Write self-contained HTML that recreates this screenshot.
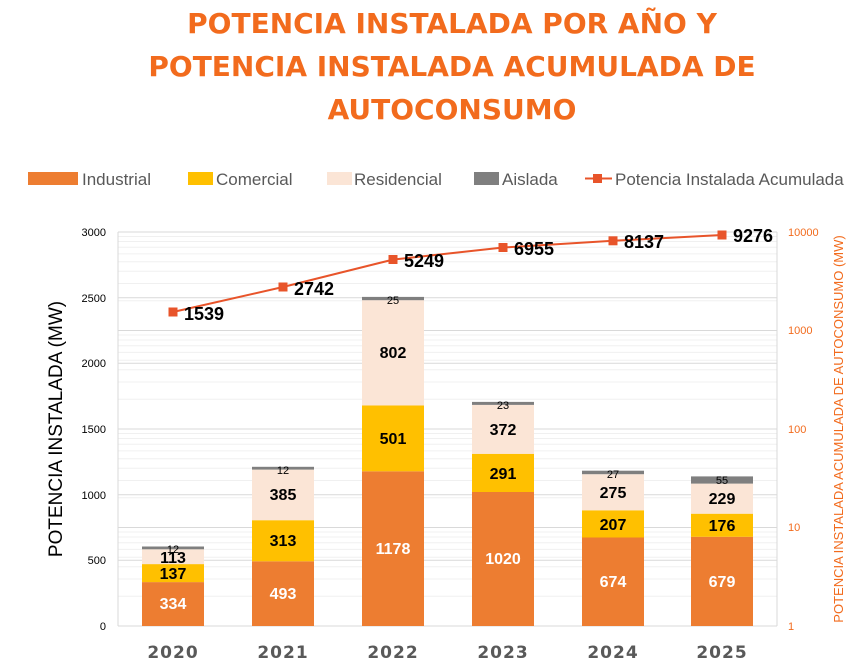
<!DOCTYPE html>
<html><head><meta charset="utf-8"><style>
body{margin:0;background:#fff;}
svg{display:block;font-family:"Liberation Sans",sans-serif;}
</style></head><body>
<svg width="866" height="668" viewBox="0 0 866 668" xmlns="http://www.w3.org/2000/svg">
<g font-family="'DejaVu Sans','Liberation Sans',sans-serif" font-weight="bold" font-size="28" fill="#F26B1D" text-anchor="middle">
<text x="452" y="33">POTENCIA INSTALADA POR AÑO Y</text>
<text x="452" y="76">POTENCIA INSTALADA ACUMULADA DE</text>
<text x="452" y="119">AUTOCONSUMO</text>
</g>
<g font-size="17" fill="#595959">
<rect x="28" y="172" width="50" height="13" fill="#ED7D31"/><text x="82" y="185">Industrial</text>
<rect x="188" y="172" width="25" height="13" fill="#FFC000"/><text x="216" y="185">Comercial</text>
<rect x="327" y="172" width="25" height="13" fill="#FBE5D6"/><text x="354" y="185">Residencial</text>
<rect x="474" y="172" width="25" height="13" fill="#7F7F7F"/><text x="502" y="185">Aislada</text>
<line x1="585" y1="178.5" x2="612" y2="178.5" stroke="#E8542A" stroke-width="2"/><rect x="593" y="174" width="9" height="9" fill="#E8542A"/><text x="615" y="185">Potencia Instalada Acumulada</text>
</g>
<g stroke="#f0f0f0" stroke-width="1">
<line x1="118" y1="596.3" x2="777" y2="596.3"/><line x1="118" y1="579" x2="777" y2="579"/><line x1="118" y1="566.7" x2="777" y2="566.7"/><line x1="118" y1="557.2" x2="777" y2="557.2"/><line x1="118" y1="549.4" x2="777" y2="549.4"/><line x1="118" y1="542.8" x2="777" y2="542.8"/><line x1="118" y1="537" x2="777" y2="537"/><line x1="118" y1="532" x2="777" y2="532"/>
<line x1="118" y1="497.8" x2="777" y2="497.8"/><line x1="118" y1="480.5" x2="777" y2="480.5"/><line x1="118" y1="468.2" x2="777" y2="468.2"/><line x1="118" y1="458.7" x2="777" y2="458.7"/><line x1="118" y1="450.9" x2="777" y2="450.9"/><line x1="118" y1="444.3" x2="777" y2="444.3"/><line x1="118" y1="438.5" x2="777" y2="438.5"/><line x1="118" y1="433.5" x2="777" y2="433.5"/>
<line x1="118" y1="399.3" x2="777" y2="399.3"/><line x1="118" y1="382" x2="777" y2="382"/><line x1="118" y1="369.7" x2="777" y2="369.7"/><line x1="118" y1="360.2" x2="777" y2="360.2"/><line x1="118" y1="352.4" x2="777" y2="352.4"/><line x1="118" y1="345.8" x2="777" y2="345.8"/><line x1="118" y1="340" x2="777" y2="340"/><line x1="118" y1="335" x2="777" y2="335"/>
<line x1="118" y1="300.8" x2="777" y2="300.8"/><line x1="118" y1="283.5" x2="777" y2="283.5"/><line x1="118" y1="271.2" x2="777" y2="271.2"/><line x1="118" y1="261.7" x2="777" y2="261.7"/><line x1="118" y1="253.9" x2="777" y2="253.9"/><line x1="118" y1="247.3" x2="777" y2="247.3"/><line x1="118" y1="241.5" x2="777" y2="241.5"/><line x1="118" y1="236.5" x2="777" y2="236.5"/>
</g>
<g stroke="#d9d9d9" stroke-width="1">
<line x1="118" y1="560.3" x2="777" y2="560.3"/><line x1="118" y1="494.7" x2="777" y2="494.7"/><line x1="118" y1="429" x2="777" y2="429"/><line x1="118" y1="363.3" x2="777" y2="363.3"/><line x1="118" y1="297.7" x2="777" y2="297.7"/><line x1="118" y1="232" x2="777" y2="232"/>
<line x1="118" y1="527.5" x2="777" y2="527.5"/><line x1="118" y1="330.5" x2="777" y2="330.5"/>
<line x1="118" y1="626" x2="777" y2="626"/><line x1="118" y1="232" x2="118" y2="626"/><line x1="777" y1="232" x2="777" y2="626"/>
</g>
<g font-size="11" fill="#000" text-anchor="end">
<text x="106" y="630">0</text><text x="106" y="564">500</text><text x="106" y="499">1000</text><text x="106" y="433">1500</text><text x="106" y="367">2000</text><text x="106" y="302">2500</text><text x="106" y="236">3000</text>
</g>
<g font-size="11" fill="#F26B1D">
<text x="788" y="630">1</text><text x="788" y="531">10</text><text x="788" y="433">100</text><text x="788" y="334">1000</text><text x="788" y="236">10000</text>
</g>
<text transform="translate(62,429) rotate(-90)" text-anchor="middle" font-size="19" fill="#000">POTENCIA  INSTALADA (MW)</text>
<text transform="translate(843,429) rotate(-90)" text-anchor="middle" font-size="13" fill="#F26B1D">POTENCIA INSTALADA ACUMULADA DE AUTOCONSUMO (MW)</text>
<g>
<rect x="142" y="582.1" width="62" height="43.9" fill="#ED7D31"/><rect x="142" y="564.1" width="62" height="18" fill="#FFC000"/><rect x="142" y="549.3" width="62" height="14.8" fill="#FBE5D6"/><rect x="142" y="546.5" width="62" height="2.8" fill="#7F7F7F"/>
<rect x="252" y="561.3" width="62" height="64.7" fill="#ED7D31"/><rect x="252" y="520.2" width="62" height="41.1" fill="#FFC000"/><rect x="252" y="469.6" width="62" height="50.6" fill="#FBE5D6"/><rect x="252" y="466.8" width="62" height="2.8" fill="#7F7F7F"/>
<rect x="362" y="471.3" width="62" height="154.7" fill="#ED7D31"/><rect x="362" y="405.5" width="62" height="65.8" fill="#FFC000"/><rect x="362" y="300.2" width="62" height="105.3" fill="#FBE5D6"/><rect x="362" y="296.9" width="62" height="3.3" fill="#7F7F7F"/>
<rect x="472" y="492" width="62" height="134" fill="#ED7D31"/><rect x="472" y="453.8" width="62" height="38.2" fill="#FFC000"/><rect x="472" y="404.9" width="62" height="48.9" fill="#FBE5D6"/><rect x="472" y="401.9" width="62" height="3" fill="#7F7F7F"/>
<rect x="582" y="537.5" width="62" height="88.5" fill="#ED7D31"/><rect x="582" y="510.3" width="62" height="27.2" fill="#FFC000"/><rect x="582" y="474.2" width="62" height="36.1" fill="#FBE5D6"/><rect x="582" y="470.7" width="62" height="3.5" fill="#7F7F7F"/>
<rect x="691" y="536.8" width="62" height="89.2" fill="#ED7D31"/><rect x="691" y="513.7" width="62" height="23.1" fill="#FFC000"/><rect x="691" y="483.6" width="62" height="30.1" fill="#FBE5D6"/><rect x="691" y="476.4" width="62" height="7.2" fill="#7F7F7F"/>
</g>
<g font-size="16" font-weight="bold" text-anchor="middle">
<g fill="#fff"><text x="173" y="609">334</text><text x="283" y="599">493</text><text x="393" y="554">1178</text><text x="503" y="564">1020</text><text x="613" y="587">674</text><text x="722" y="587">679</text></g>
<g fill="#000"><text x="173" y="579">137</text><text x="283" y="546">313</text><text x="393" y="444">501</text><text x="503" y="479">291</text><text x="613" y="530">207</text><text x="722" y="531">176</text>
<text x="173" y="563">113</text><text x="283" y="500">385</text><text x="393" y="358">802</text><text x="503" y="435">372</text><text x="613" y="498">275</text><text x="722" y="504">229</text></g>
</g>
<g font-size="11" text-anchor="middle" fill="#000">
<text x="173" y="553">12</text><text x="283" y="474">12</text><text x="393" y="304">25</text><text x="503" y="409">23</text><text x="613" y="478">27</text><text x="722" y="484">55</text>
</g>
<polyline points="173,312 283,287 393,259.6 503,247.5 613,240.8 722,235" fill="none" stroke="#E8542A" stroke-width="2"/>
<g fill="#E8542A">
<rect x="168.5" y="307.5" width="9" height="9"/><rect x="278.5" y="282.5" width="9" height="9"/><rect x="388.5" y="255" width="9" height="9"/><rect x="498.5" y="243" width="9" height="9"/><rect x="608.5" y="236.3" width="9" height="9"/><rect x="717.5" y="230.5" width="9" height="9"/>
</g>
<g font-size="18" font-weight="bold" fill="#000">
<text x="184" y="320">1539</text><text x="294" y="295">2742</text><text x="404" y="267">5249</text><text x="514" y="255">6955</text><text x="624" y="248">8137</text><text x="733" y="242">9276</text>
</g>
<g font-size="17" font-weight="bold" fill="#595959" text-anchor="middle" font-family="'DejaVu Sans','Liberation Sans',sans-serif" letter-spacing="1">
<text x="173" y="658">2020</text><text x="283" y="658">2021</text><text x="393" y="658">2022</text><text x="503" y="658">2023</text><text x="613" y="658">2024</text><text x="722" y="658">2025</text>
</g>
</svg>
</body></html>
